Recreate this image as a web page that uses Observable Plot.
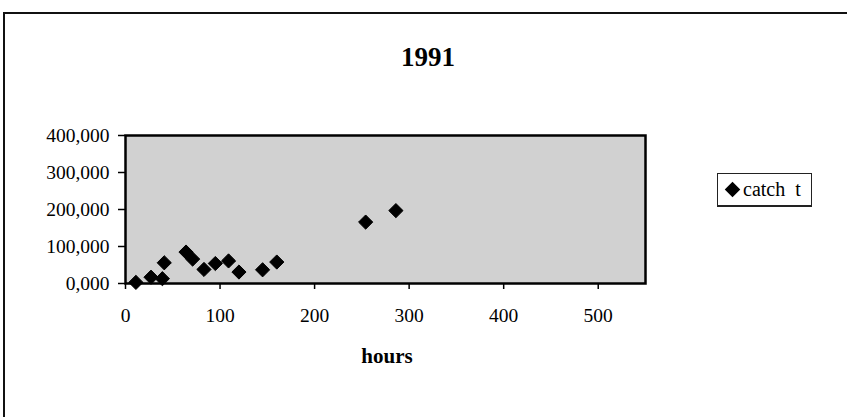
<!DOCTYPE html>
<html>
<head>
<meta charset="utf-8">
<script src="https://cdn.jsdelivr.net/npm/d3@7"></script>
<script src="https://cdn.jsdelivr.net/npm/@observablehq/plot@0.6"></script>
<style>
  html, body { margin: 0; padding: 0; background: #fff; }
  #wrap { position: relative; width: 847px; height: 417px; overflow: hidden; font-family: "Liberation Serif", "DejaVu Serif", serif; }
  #border { position: absolute; left: 3px; top: 12px; width: 860px; height: 420px; border-left: 2px solid #111; border-top: 2px solid #111; }
  #title { position: absolute; left: 328px; width: 200px; top: 42px; text-align: center; font-weight: bold; font-size: 27px; line-height: 30px; color: #000; }
  #xlabel { position: absolute; left: 337px; width: 100px; top: 345px; text-align: center; font-weight: bold; font-size: 21px; line-height: 22px; color: #000; }
  #legend { position: absolute; left: 717px; top: 173px; width: 95px; height: 34px; border: 1px solid #222; border-bottom-width: 2px; box-sizing: border-box; display: flex; align-items: center; font-size: 20px; color: #000; white-space: pre; }
  #legend .sym { display: inline-block; width: 11px; height: 11px; background: #000; transform: rotate(45deg); margin-left: 9px; margin-right: 5px; }
  svg { position: absolute; left: 0; top: 0; }
</style>
</head>
<body>
<div id="wrap">
  <div id="border"></div>
  <div id="chart"></div>
  <div id="title"></div>
  <div id="xlabel"></div>
  <div id="legend"><span class="sym"></span><span id="legtext"></span></div>
</div>
<script>
// Data (catch in thousands as shown by the axis format "100,000")
const hours = [11, 27, 39, 41, 64, 71, 83, 95, 109, 120, 145, 160, 254, 286];
const catchT = [3, 17, 13, 56, 85, 66, 38, 54, 61, 31, 37, 58, 166, 197];
const xTicks = [0, 100, 200, 300, 400, 500];
const yTicks = [0, 100, 200, 300, 400];
const yTickLabels = ["0,000", "100,000", "200,000", "300,000", "400,000"];
const titleText = "1991";
const xLabelText = "hours";
const seriesName = "catch  t";

const data = hours.map((h, i) => ({hours: h, catch: catchT[i]}));

document.getElementById("title").textContent = titleText;
document.getElementById("xlabel").textContent = xLabelText;
document.getElementById("legtext").textContent = seriesName;

const chart = Plot.plot({
  width: 847,
  height: 417,
  marginLeft: 125,
  marginRight: 202,
  marginTop: 135,
  marginBottom: 134,
  style: {fontFamily: "'Liberation Serif', serif", fontSize: "19.5px", color: "#000", background: "transparent"},
  x: {domain: [0, 550], ticks: xTicks, label: null},
  y: {domain: [0, 400], ticks: yTicks, label: null},
  marks: [
    Plot.frame({fill: "url(#dots)", stroke: "none"}),
    Plot.axisX({ticks: xTicks, tickSize: 6, tickPadding: 19, label: null, stroke: "#000", strokeWidth: 1.5, fill: "#000"}),
    Plot.axisY({ticks: yTicks, tickSize: 7, tickPadding: 9, label: null, tickFormat: (d) => yTickLabels[yTicks.indexOf(d)], stroke: "#000", strokeWidth: 1.5, fill: "#000"}),
    Plot.frame({stroke: "#000", strokeWidth: 2.5}),
    Plot.dot(data, {x: "hours", y: "catch", symbol: "diamond2", r: 6.4, fill: "#000", stroke: "#000", strokeWidth: 1})
  ]
});

// pattern definition for the dotted plot background
const ns = "http://www.w3.org/2000/svg";
const defs = document.createElementNS(ns, "defs");
const pat = document.createElementNS(ns, "pattern");
pat.setAttribute("id", "dots");
pat.setAttribute("patternUnits", "userSpaceOnUse");
pat.setAttribute("width", "2");
pat.setAttribute("height", "2");
const bg = document.createElementNS(ns, "rect");
bg.setAttribute("width", "2"); bg.setAttribute("height", "2"); bg.setAttribute("fill", "#ffffff");
const p1 = document.createElementNS(ns, "rect");
p1.setAttribute("x", "0"); p1.setAttribute("y", "0"); p1.setAttribute("width", "1"); p1.setAttribute("height", "1"); p1.setAttribute("fill", "#7a7a7a");
const p2 = document.createElementNS(ns, "rect");
p2.setAttribute("x", "1"); p2.setAttribute("y", "1"); p2.setAttribute("width", "1"); p2.setAttribute("height", "1"); p2.setAttribute("fill", "#cccccc");
pat.appendChild(bg); pat.appendChild(p1); pat.appendChild(p2);
defs.appendChild(pat);
chart.insertBefore(defs, chart.firstChild);

document.getElementById("chart").appendChild(chart);
</script>
</body>
</html>
